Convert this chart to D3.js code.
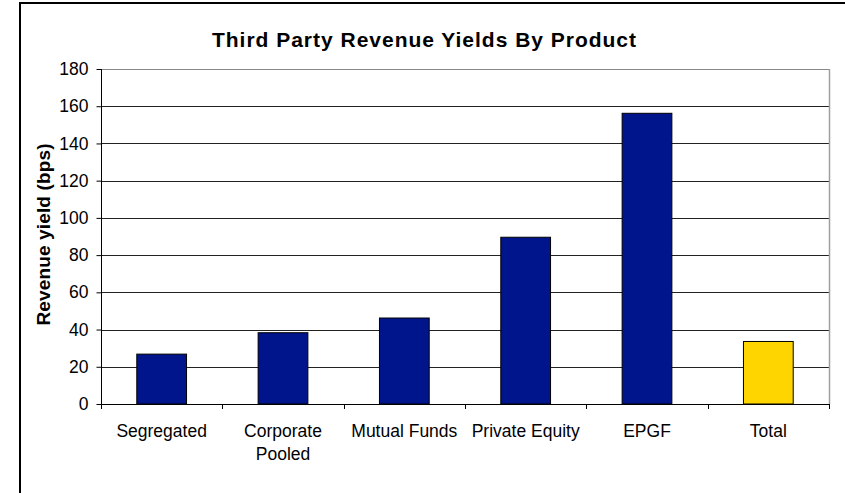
<!DOCTYPE html>
<html>
<head>
<meta charset="utf-8">
<script src="https://cdn.jsdelivr.net/npm/d3@7"></script>
<style>
  html, body { margin: 0; padding: 0; background: #fff; }
  svg { display: block; font-family: Arial, "Liberation Sans", sans-serif; }
</style>
</head>
<body>
<svg id="chart" width="845" height="493"></svg>
<script>
// Third party revenue yields (basis points) by product
const categories = ["Segregated", "Corporate\nPooled", "Mutual Funds", "Private Equity", "EPGF", "Total"];
const yields = [26.8, 38.3, 46.2, 89.6, 156.2, 33.6];
const barColors = ["#00148C", "#00148C", "#00148C", "#00148C", "#00148C", "#FFD500"];
const yTicks = [0, 20, 40, 60, 80, 100, 120, 140, 160, 180];
const titleText = "Third Party Revenue Yields By Product";
const yTitleText = "Revenue yield (bps)";

const svg = d3.select("#chart");
const W = 845, H = 493;
const plot = { left: 101, right: 829, top: 69, bottom: 404 };

// outer chart frame (runs off the right and bottom edges)
svg.append("rect")
  .attr("x", 20).attr("y", 3)
  .attr("width", W + 20).attr("height", H + 20)
  .attr("fill", "#fff").attr("stroke", "#000").attr("stroke-width", 2);

const x = d3.scaleBand()
  .domain(categories)
  .range([plot.left, plot.right])
  .paddingInner(0.59).paddingOuter(0.295);

const xBand = d3.scaleBand()
  .domain(categories)
  .range([plot.left, plot.right]);

const y = d3.scaleLinear().domain([0, 180]).range([plot.bottom, plot.top]);

// horizontal gridlines
svg.append("g")
  .selectAll("line")
  .data(yTicks.filter(t => t > 0))
  .join("line")
  .attr("x1", plot.left).attr("x2", plot.right)
  .attr("y1", d => Math.round(y(d)) + 0.5).attr("y2", d => Math.round(y(d)) + 0.5)
  .attr("stroke", d => d === 180 ? "#888" : "#222").attr("stroke-width", 1);

// plot area right border
svg.append("line")
  .attr("x1", plot.right + 0.5).attr("x2", plot.right + 0.5)
  .attr("y1", plot.top).attr("y2", plot.bottom)
  .attr("stroke", "#a0a0a0").attr("stroke-width", 1.5);

// bars
svg.append("g")
  .selectAll("rect")
  .data(categories)
  .join("rect")
  .attr("x", d => x(d))
  .attr("width", x.bandwidth())
  .attr("y", (d, i) => y(yields[i]))
  .attr("height", (d, i) => y(0) - y(yields[i]))
  .attr("fill", (d, i) => barColors[i])
  .attr("stroke", "#000").attr("stroke-width", 1);

// y axis
const yAxis = svg.append("g")
  .attr("transform", `translate(${plot.left + 0.5},0)`)
  .call(d3.axisLeft(y).tickValues(yTicks).tickSize(5).tickPadding(8).tickFormat(d3.format("d")));
yAxis.select(".domain").attr("stroke", "#000").attr("d", `M0,${plot.top}V${plot.bottom}`);
yAxis.selectAll(".tick line").attr("stroke", "#000");
yAxis.selectAll("text")
  .attr("font-size", 17.5).attr("fill", "#000")
  .attr("font-family", "Arial, 'Liberation Sans', sans-serif");

// x axis line and ticks at category boundaries
svg.append("line")
  .attr("x1", plot.left).attr("x2", plot.right + 1)
  .attr("y1", plot.bottom + 0.5).attr("y2", plot.bottom + 0.5)
  .attr("stroke", "#000").attr("stroke-width", 1);
const bounds = categories.map(c => xBand(c)).concat([plot.right]);
svg.append("g")
  .selectAll("line")
  .data(bounds)
  .join("line")
  .attr("x1", d => Math.round(d) + 0.5).attr("x2", d => Math.round(d) + 0.5)
  .attr("y1", plot.bottom).attr("y2", plot.bottom + 5)
  .attr("stroke", "#000");

// category labels
const xl = svg.append("g")
  .selectAll("text")
  .data(categories)
  .join("text")
  .attr("x", d => xBand(d) + xBand.bandwidth() / 2)
  .attr("y", 437)
  .attr("text-anchor", "middle")
  .attr("font-size", 17.5)
  .attr("fill", "#000");
xl.each(function(d) {
  const lines = d.split("\n");
  d3.select(this).selectAll("tspan")
    .data(lines)
    .join("tspan")
    .attr("x", xBand(d) + xBand.bandwidth() / 2)
    .attr("dy", (l, i) => i === 0 ? 0 : 22.6)
    .text(l => l);
});

// chart title
svg.append("text")
  .attr("x", 424).attr("y", 47)
  .attr("text-anchor", "middle")
  .attr("font-size", 21).attr("font-weight", "bold")
  .attr("textLength", 424).attr("lengthAdjust", "spacing")
  .text(titleText);

// y axis title
svg.append("text")
  .attr("transform", `translate(50,${(plot.top + plot.bottom) / 2 - 2}) rotate(-90)`)
  .attr("text-anchor", "middle")
  .attr("font-size", 19).attr("font-weight", "bold")
  .attr("textLength", 182).attr("lengthAdjust", "spacing")
  .text(yTitleText);
</script>
</body>
</html>
